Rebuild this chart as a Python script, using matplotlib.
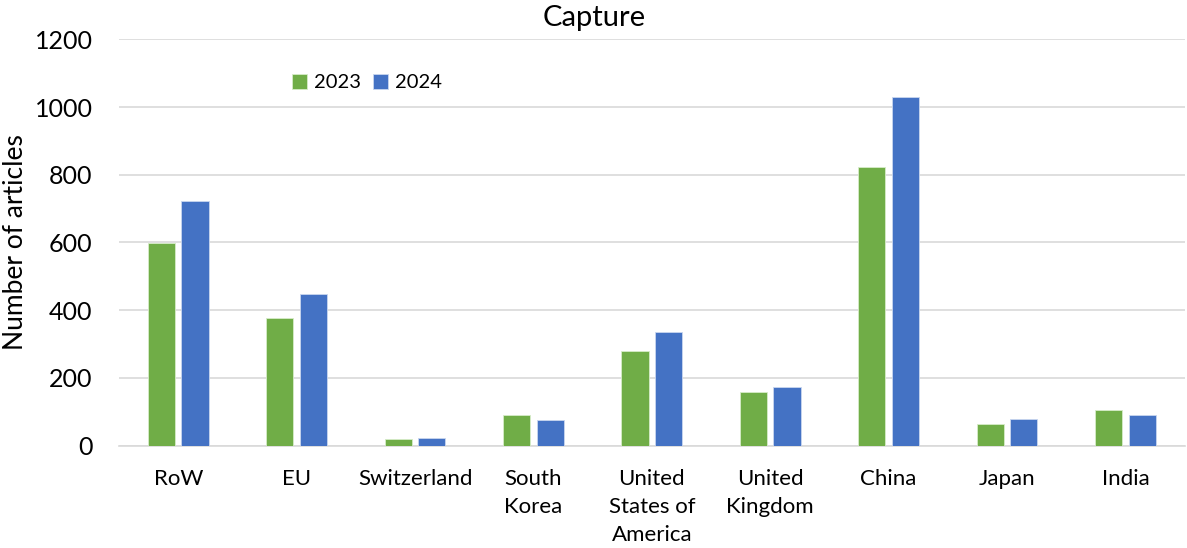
import numpy as np
import matplotlib
matplotlib.use("Agg")
import matplotlib.pyplot as plt

plt.rcParams["font.family"] = ["Lato", "DejaVu Sans"]

# data
countries = ["RoW", "EU", "Switzerland", "South\nKorea", "United\nStates of\nAmerica",
             "United\nKingdom", "China", "Japan", "India"]
y2023 = [598, 376, 19, 89, 279, 158, 823, 64, 104]
y2024 = [724, 449, 22, 75, 335, 172, 1030, 78, 90]

fig = plt.figure(figsize=(11.87, 5.48), dpi=100)
ax = fig.add_axes([0.1003, 0.187, 0.8977, 0.741])

x = np.arange(len(countries))
w = 0.23
ax.bar(x - 0.142, y2023, w, color="#70AD47", edgecolor="#d7ecc9", linewidth=0.6, label="2023", zorder=3)
ax.bar(x + 0.142, y2024, w, color="#4472C4", edgecolor="#c9d6ef", linewidth=0.6, label="2024", zorder=3)

ax.set_xlim(-0.5, len(countries) - 0.5)
ax.set_ylim(0, 1200)
ax.set_yticks(range(0, 1201, 200))
ax.set_xticks(x)
ax.set_xticklabels(countries, fontsize=16, linespacing=1.5)
ax.tick_params(axis="y", labelsize=18, length=0, pad=19)
ax.tick_params(axis="x", length=0, pad=17)

ax.grid(axis="y", color="#d9d9d9", linewidth=1.2, zorder=0)
for s in ["top", "right", "left"]:
    ax.spines[s].set_visible(False)
ax.spines["bottom"].set_color("#d9d9d9")
ax.spines["bottom"].set_linewidth(1.2)

ax.set_ylabel("Number of articles", fontsize=19)
ax.yaxis.set_label_coords(-0.085, 0.5)
fig.text(0.501, 0.967, "Capture", fontsize=21, ha="center", va="center")

ax.legend(loc="upper left", bbox_to_anchor=(0.145, 0.96), ncol=2, frameon=False,
          fontsize=14.5, handlelength=0.75, handleheight=0.75, handletextpad=0.35,
          columnspacing=0.6)

fig.savefig("out.png", dpi=100)
